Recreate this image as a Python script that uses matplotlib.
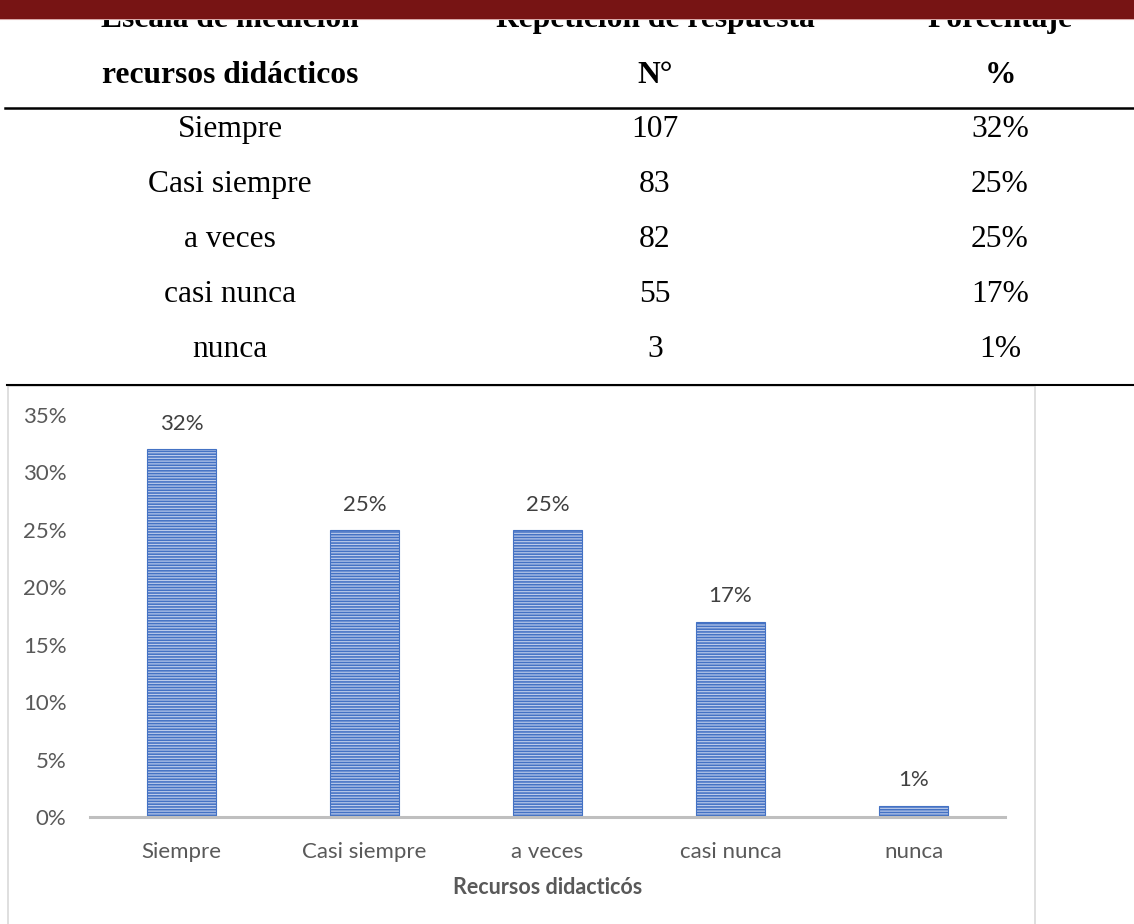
import matplotlib
matplotlib.use("Agg")
import matplotlib.pyplot as plt
from matplotlib.patches import Rectangle
from matplotlib.lines import Line2D

# ---- data ----
categories = ["Siempre", "Casi siempre", "a veces", "casi nunca", "nunca"]
counts = [107, 83, 82, 55, 3]
percents = [32, 25, 25, 17, 1]
yticks = [0, 5, 10, 15, 20, 25, 30, 35]
header1 = ["Escala de medición", "Repetición de respuesta", "Porcentaje"]
header2 = ["recursos didácticos", "N°", "%"]
axis_title = "Recursos didacticós"

W, H = 1134, 924
fig = plt.figure(figsize=(W / 100, H / 100), dpi=100)
fig.patch.set_facecolor("white")


def fx(x):
    return x / W


def fy(y):
    return 1 - y / H


serif = "Liberation Serif"
tsize = 22.7
col_x = [230, 655, 1000]

# header row 1 (partially hidden by band)
for txt, cx in zip(header1, col_x):
    fig.text(fx(cx), fy(27), txt, ha="center", va="baseline", fontsize=tsize,
             fontweight="bold", family=serif, color="black", zorder=3)
# header row 2
for txt, cx in zip(header2, col_x):
    fig.text(fx(cx), fy(83), txt, ha="center", va="baseline", fontsize=tsize,
             fontweight="bold", family=serif, color="black", zorder=3)

# band at top
fig.patches.append(Rectangle((0, fy(18.5)), 1, 18.5 / H, transform=fig.transFigure,
                             facecolor="#771414", edgecolor="none", zorder=10))
fig.lines.append(Line2D([0, 1], [fy(19), fy(19)], transform=fig.transFigure,
                        color="#d8a8a8", lw=0.8, zorder=10))

# table rows
row_base = [137, 192, 247, 302, 357]
for i, cat in enumerate(categories):
    yb = fy(row_base[i])
    fig.text(fx(col_x[0]), yb, cat, ha="center", va="baseline", fontsize=tsize,
             family=serif, color="black")
    fig.text(fx(col_x[1]), yb, str(counts[i]), ha="center", va="baseline",
             fontsize=tsize, family=serif, color="black")
    fig.text(fx(col_x[2]), yb, f"{percents[i]}%", ha="center", va="baseline",
             fontsize=tsize, family=serif, color="black")

# table rules
fig.lines.append(Line2D([fx(5), 1], [fy(108), fy(108)], transform=fig.transFigure,
                        color="black", lw=1.8))
fig.lines.append(Line2D([fx(7), 1], [fy(385), fy(385)], transform=fig.transFigure,
                        color="black", lw=1.5, zorder=5))

# chart border
fig.patches.append(Rectangle((fx(8), fy(960)), fx(1035) - fx(8), (960 - 386) / H,
                             transform=fig.transFigure, facecolor="none",
                             edgecolor="#d9d9d9", lw=1.2, zorder=-1))

# chart axes
ax = fig.add_axes([fx(90), fy(817), fx(1005) - fx(90), (817 - 415) / H])
ax.set_zorder(2)
ax.set_facecolor("none")
plt.rcParams["hatch.linewidth"] = 1.15
x = list(range(len(categories)))
bars = ax.bar(x, percents, width=0.38, facecolor="#bccbeb", edgecolor="#4472C4",
              hatch="------", linewidth=0.8, zorder=2)
ax.bar_label(bars, labels=[f"{v}%" for v in percents], padding=11,
             fontsize=16, color="#404040", family="Lato")

ax.set_xlim(-0.5, len(categories) - 0.5)
ax.set_ylim(0, 35)
ax.set_yticks(yticks)
ax.set_yticklabels([f"{t}%" for t in yticks])
ax.set_xticks(x)
ax.set_xticklabels(categories)
for lab in ax.get_xticklabels() + ax.get_yticklabels():
    lab.set_family("Lato")
    lab.set_fontsize(16)
    lab.set_color("#595959")
ax.tick_params(axis="both", length=0)
ax.tick_params(axis="x", pad=18)
ax.tick_params(axis="y", pad=17)
for s in ["top", "right", "left"]:
    ax.spines[s].set_visible(False)
ax.spines["bottom"].set_color("#bfbfbf")
ax.spines["bottom"].set_linewidth(2.2)
ax.spines["bottom"].set_zorder(3)
ax.set_xlabel(axis_title, fontsize=15.5, fontweight="bold", color="#595959",
              family="Lato", labelpad=11)

fig.savefig("out.png", dpi=100, facecolor="white")
